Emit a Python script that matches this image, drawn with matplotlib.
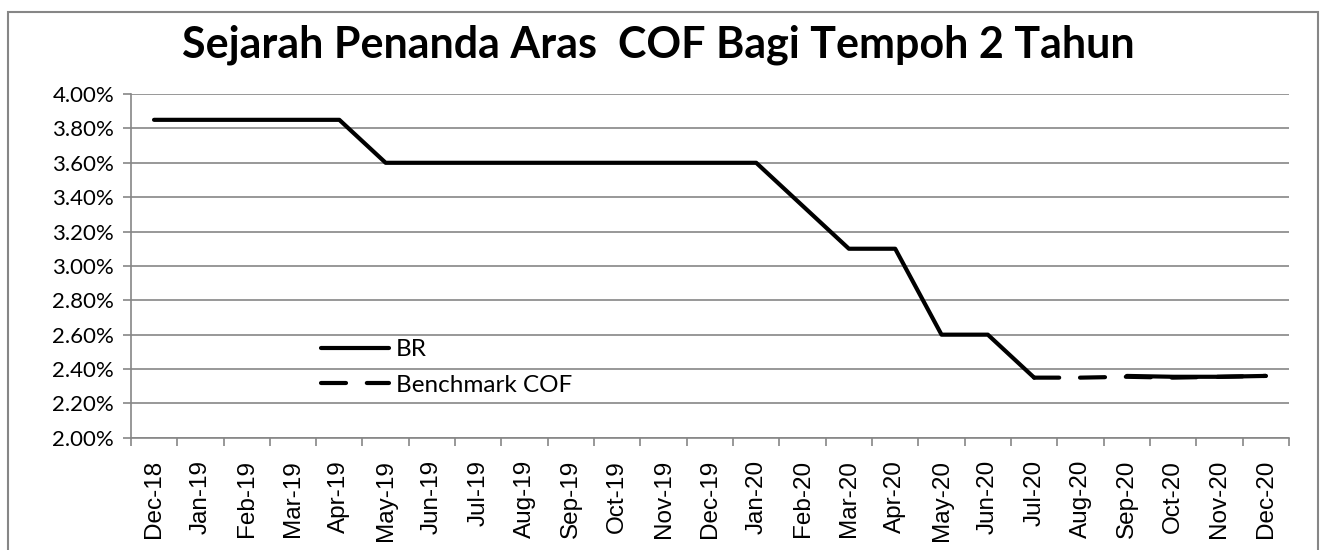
import matplotlib.pyplot as plt
import numpy as np
from matplotlib.patches import Rectangle
from matplotlib.ticker import FuncFormatter, FixedLocator

months = ["Dec-18", "Jan-19", "Feb-19", "Mar-19", "Apr-19", "May-19", "Jun-19",
          "Jul-19", "Aug-19", "Sep-19", "Oct-19", "Nov-19", "Dec-19", "Jan-20",
          "Feb-20", "Mar-20", "Apr-20", "May-20", "Jun-20", "Jul-20", "Aug-20",
          "Sep-20", "Oct-20", "Nov-20", "Dec-20"]

br = [3.85, 3.85, 3.85, 3.85, 3.85, 3.60, 3.60, 3.60, 3.60, 3.60, 3.60, 3.60,
      3.60, 3.60, 3.35, 3.10, 3.10, 2.60, 2.60, 2.35, np.nan, 2.36, 2.355,
      2.355, 2.36]
cof = [np.nan] * 19 + [2.35, 2.35, 2.355, 2.35, 2.355, 2.36]

grey = "#868686"

fig = plt.figure(figsize=(13.22, 5.5), dpi=100)
ax = fig.add_axes([0.099, 0.204, 0.876, 0.625])

x = np.arange(len(months))
ax.plot(x, br, color="black", lw=3, solid_capstyle="round",
        solid_joinstyle="round", label="BR", zorder=3)
ax.plot(x, cof, color="black", lw=3, dashes=(6, 5), dash_capstyle="round",
        label="Benchmark COF", zorder=3)

ax.set_xlim(-0.5, len(months) - 0.5)
ax.set_ylim(2.0, 4.0)
ax.set_yticks(np.arange(2.0, 4.01, 0.2))
ax.yaxis.set_major_formatter(FuncFormatter(lambda v, p: f"{v:.2f}%"))
ax.grid(axis="y", color=grey, lw=1.2)
ax.set_axisbelow(True)

ax.set_xticks(x)
ax.set_xticklabels(months, rotation=90, fontsize=17.5, family="Liberation Sans")
ax.xaxis.set_minor_locator(FixedLocator(np.arange(-0.5, len(months), 1)))
ax.tick_params(axis="x", which="major", length=0, pad=16)
ax.tick_params(axis="x", which="minor", length=6, color=grey, width=1.2)
ax.tick_params(axis="y", length=6, color=grey, width=1.2, labelsize=16, pad=6)
for lab in ax.get_yticklabels():
    lab.set_family("Lato")

for s in ["top", "right"]:
    ax.spines[s].set_visible(False)
for s in ["left", "bottom"]:
    ax.spines[s].set_color(grey)
    ax.spines[s].set_linewidth(1.2)

leg = ax.legend(loc="upper left", bbox_to_anchor=(0.145, 0.35), frameon=False,
                prop={"family": "Lato", "size": 17.5}, handlelength=2.8,
                labelspacing=0.6, handletextpad=0.3)

fig.text(0.498, 0.918, "Sejarah Penanda Aras  COF Bagi Tempoh 2 Tahun",
         ha="center", va="center", fontsize=31, fontweight="bold", family="Lato")

fig.patches.append(Rectangle((8 / 1322, -0.05), 1310 / 1322, 1.05 - 12 / 550,
                             transform=fig.transFigure, fill=False,
                             edgecolor=grey, lw=1.5))

fig.savefig("out.png", dpi=100)
